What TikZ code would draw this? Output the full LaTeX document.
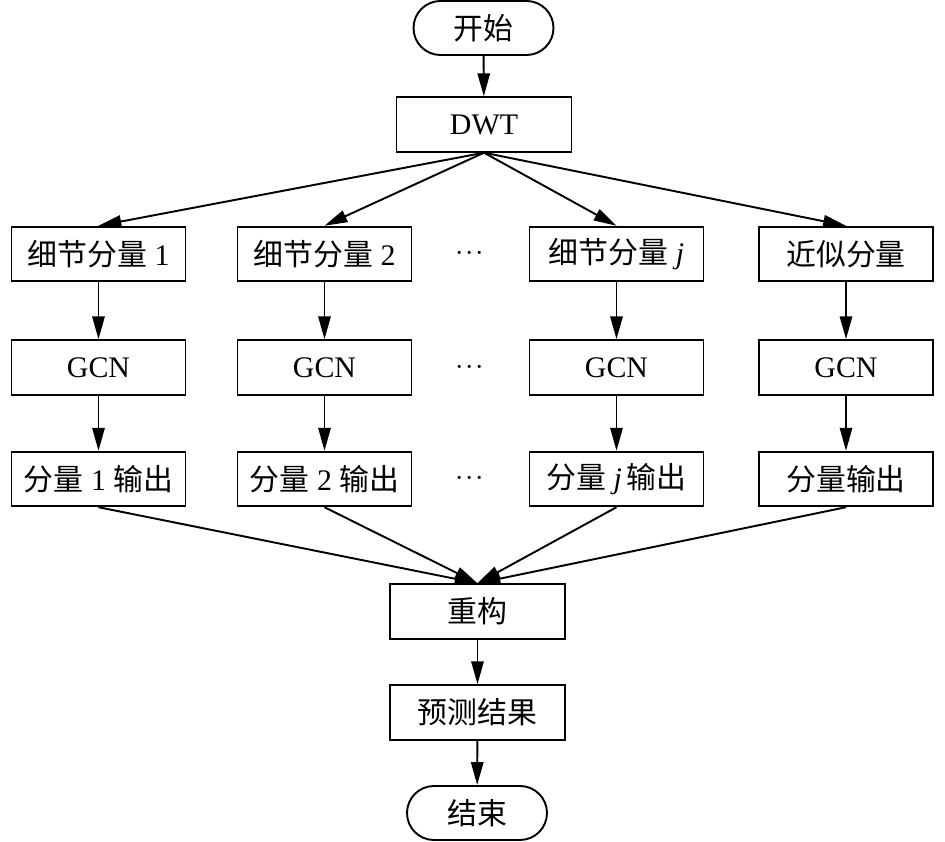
\documentclass[tikz,border=0pt]{standalone}
\usepackage{fontspec}
\setmainfont{Liberation Serif}
\newfontfamily\cjk{Noto Sans CJK SC}
\usetikzlibrary{arrows.meta}
\tikzset{>={Triangle[length=13pt,width=7pt]}}
\tikzset{
  box/.style={draw=black, line width=1.1pt, minimum width=3.48cm, minimum height=1.09cm, inner sep=0pt},
  term/.style={draw=black, line width=1.1pt, minimum width=2.8cm, minimum height=1.08cm, inner sep=0pt, rounded corners=0.54cm},
  flow/.style={->, line width=1.1pt},
  every node/.style={font=\fontsize{17}{20}\selectfont}
}

\begin{document}
\begin{tikzpicture}

            \useasboundingbox (0,0) rectangle (18.9,-16.84);

            % Start and DWT
            \node[term] (start) at (9.67,-0.56) {\cjk 开始};
            \node[box, minimum width=3.5cm] (dwt) at (9.68,-2.49) {DWT};

            % Components
            \node[box] (d1) at (1.97,-5.08) {{\cjk 细节分量} 1};
            \node[box] (d2) at (6.49,-5.08) {{\cjk 细节分量} 2};
            \node[box] (dj) at (12.33,-5.08) {{\cjk 细节分量} \textit{j}};
            \node[box] (ap) at (16.92,-5.08) {\cjk 近似分量};

            % GCN
            \node[box] (g1) at (1.97,-7.35) {GCN};
            \node[box] (g2) at (6.49,-7.35) {GCN};
            \node[box] (gj) at (12.33,-7.35) {GCN};
            \node[box] (ga) at (16.92,-7.35) {GCN};

            % Outputs
            \node[box] (o1) at (1.97,-9.58) {{\cjk 分量} 1 {\cjk 输出}};
            \node[box] (o2) at (6.49,-9.58) {{\cjk 分量} 2 {\cjk 输出}};
            \node[box] (oj) at (12.33,-9.58) {{\cjk 分量} \textit{j}\,{\cjk 输出}};
            \node[box] (oa) at (16.92,-9.58) {\cjk 分量输出};

            % Dots
            \node (dots1) at (9.4,-5.08) {$\cdot\!\cdot\!\cdot$};
            \node (dots2) at (9.4,-7.35) {$\cdot\!\cdot\!\cdot$};
            \node (dots3) at (9.4,-9.58) {$\cdot\!\cdot\!\cdot$};

            % Reconstruction, result, end
            \node[box, minimum width=3.5cm] (rec) at (9.55,-12.23) {\cjk 重构};
            \node[box, minimum width=3.5cm] (res) at (9.55,-14.25) {\cjk 预测结果};
            \node[term] (stop) at (9.54,-16.26) {\cjk 结束};

            % Arrows
            \draw[flow] (start) -- (dwt);
            \draw[flow] (dwt.south) -- (d1.north);
            \draw[flow] (dwt.south) -- (d2.north);
            \draw[flow] (dwt.south) -- (dj.north);
            \draw[flow] (dwt.south) -- (ap.north);

            \draw[flow] (d1) -- (g1);
            \draw[flow] (d2) -- (g2);
            \draw[flow] (dj) -- (gj);
            \draw[flow] (ap) -- (ga);
            \draw[flow] (g1) -- (o1);
            \draw[flow] (g2) -- (o2);
            \draw[flow] (gj) -- (oj);
            \draw[flow] (ga) -- (oa);

            \draw[flow] (o1.south) -- (rec.north);
            \draw[flow] (o2.south) -- (rec.north);
            \draw[flow] (oj.south) -- (rec.north);
            \draw[flow] (oa.south) -- (rec.north);

            \draw[flow] (rec) -- (res);
            \draw[flow] (res) -- (stop);

        \end{tikzpicture}
\end{document}
